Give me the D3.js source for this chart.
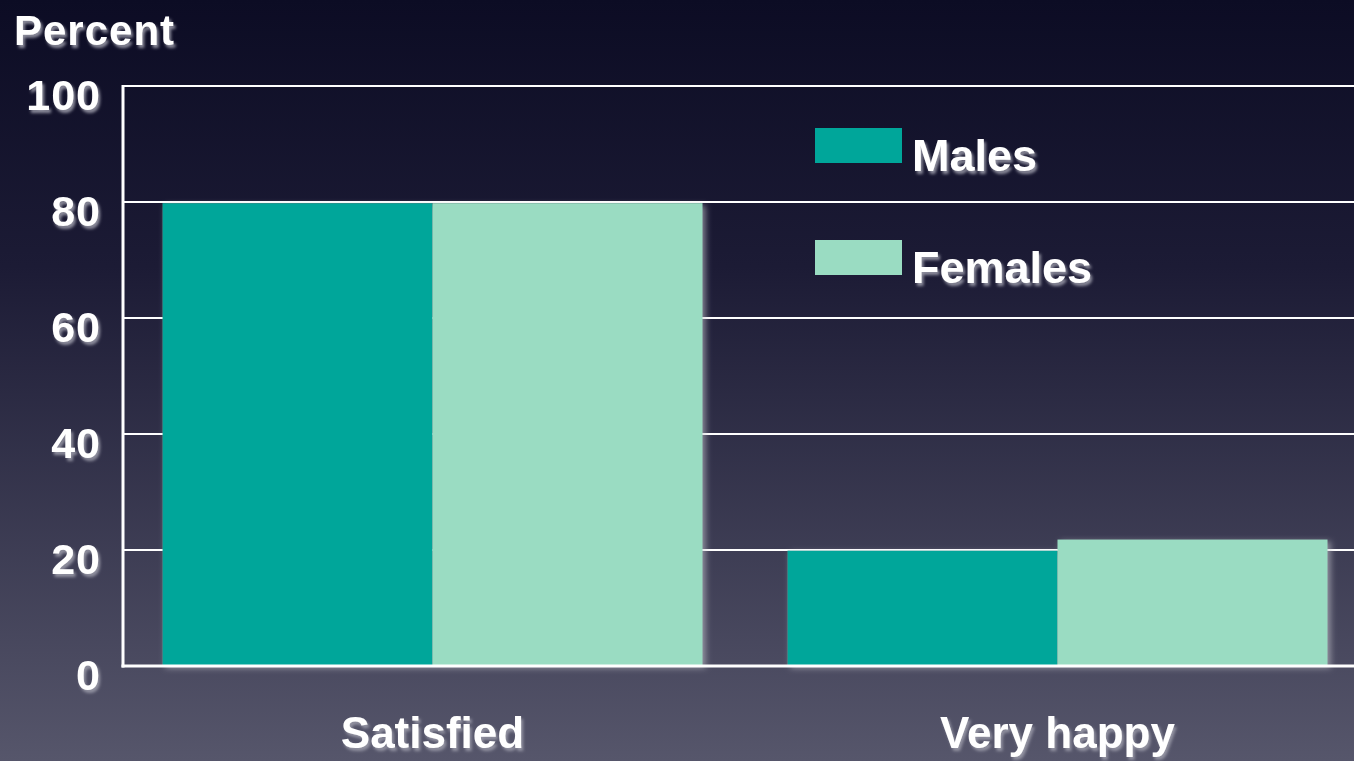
<!DOCTYPE html>
<html>
<head>
<meta charset="utf-8">
<script src="https://cdn.jsdelivr.net/npm/d3@7"></script>
<style>
  html, body { margin: 0; padding: 0; overflow: hidden; }
  svg text {
    font-family: "Liberation Sans", Arial, Helvetica, sans-serif;
    font-weight: bold;
    fill: #fff;
  }
</style>
</head>
<body>
<div id="chart"></div>
<script>
var categories = ["Satisfied", "Very happy"];
var seriesNames = ["Males", "Females"];
var males = [79.8, 19.9];
var females = [79.8, 21.8];
var yTicks = [0, 20, 40, 60, 80, 100];
var colors = ["#00a69a", "#9adcc2"];

var w = 1354, h = 761;
var plotLeft = 123, plotTop = 86, plotBottom = 666;

var svg = d3.select("#chart").append("svg")
  .attr("width", w)
  .attr("height", h);

var defs = svg.append("defs");
var grad = defs.append("linearGradient")
  .attr("id", "bg")
  .attr("x1", 0).attr("y1", 0).attr("x2", 0).attr("y2", 1);
grad.append("stop").attr("offset", "0%").attr("stop-color", "#0c0c24");
grad.append("stop").attr("offset", "35%").attr("stop-color", "#1c1b35");
grad.append("stop").attr("offset", "100%").attr("stop-color", "#56566b");

// text glow like the slide
var tf = defs.append("filter").attr("id", "txt")
  .attr("x", "-10%").attr("y", "-20%").attr("width", "130%").attr("height", "160%");
tf.append("feGaussianBlur").attr("in", "SourceAlpha").attr("stdDeviation", 1.6).attr("result", "b");
tf.append("feOffset").attr("in", "b").attr("dx", 2).attr("dy", 3).attr("result", "o");
tf.append("feFlood").attr("flood-color", "#9a9aa8").attr("flood-opacity", 0.9);
tf.append("feComposite").attr("in2", "o").attr("operator", "in").attr("result", "s");
var tm = tf.append("feMerge");
tm.append("feMergeNode").attr("in", "s");
tm.append("feMergeNode").attr("in", "SourceGraphic");

var bf = defs.append("filter").attr("id", "barShadow")
  .attr("x", "-5%").attr("y", "-5%").attr("width", "112%").attr("height", "112%");
bf.append("feGaussianBlur").attr("in", "SourceAlpha").attr("stdDeviation", 3).attr("result", "b");
bf.append("feOffset").attr("in", "b").attr("dx", 3).attr("dy", 2).attr("result", "o");
bf.append("feFlood").attr("flood-color", "#c8c8d0").attr("flood-opacity", 0.6);
bf.append("feComposite").attr("in2", "o").attr("operator", "in").attr("result", "s");
var bm = bf.append("feMerge");
bm.append("feMergeNode").attr("in", "s");
bm.append("feMergeNode").attr("in", "SourceGraphic");

svg.append("rect")
  .attr("width", w).attr("height", h)
  .attr("fill", "url(#bg)");

var y = d3.scaleLinear().domain([0, 100]).range([plotBottom, plotTop]);
var x0 = d3.scaleBand().domain(categories)
  .range([120, 1370])
  .paddingInner(0.136)
  .paddingOuter(0.068);
var x1 = d3.scaleBand().domain(seriesNames)
  .range([0, x0.bandwidth()]);

// gridlines
svg.append("g").selectAll("line")
  .data(yTicks.filter(function(d) { return d > 0; }))
  .enter().append("line")
  .attr("x1", plotLeft).attr("x2", w)
  .attr("y1", function(d) { return y(d); })
  .attr("y2", function(d) { return y(d); })
  .attr("stroke", "#fff")
  .attr("stroke-width", 2);

// bars
var data = categories.map(function(c, i) {
  return [{cat: c, s: "Males", v: males[i]}, {cat: c, s: "Females", v: females[i]}];
});
var groups = svg.append("g").selectAll("g")
  .data(data)
  .enter().append("g")
  .attr("transform", function(d) { return "translate(" + x0(d[0].cat) + ",0)"; })
  .attr("filter", "url(#barShadow)");
groups.selectAll("rect")
  .data(function(d) { return d; })
  .enter().append("rect")
  .attr("x", function(d) { return x1(d.s); })
  .attr("y", function(d) { return y(d.v); })
  .attr("width", x1.bandwidth())
  .attr("height", function(d) { return plotBottom - y(d.v); })
  .attr("fill", function(d, i) { return colors[i]; });

// axis frame
svg.append("line")
  .attr("x1", plotLeft).attr("x2", plotLeft)
  .attr("y1", y(100) - 1).attr("y2", plotBottom + 1.5)
  .attr("stroke", "#fff").attr("stroke-width", 3);
svg.append("line")
  .attr("x1", plotLeft - 1.5).attr("x2", w)
  .attr("y1", plotBottom).attr("y2", plotBottom)
  .attr("stroke", "#fff").attr("stroke-width", 3);

// tick labels
var yAxis = d3.axisLeft(y).tickValues(yTicks).tickSize(0).tickPadding(0);
var ya = svg.append("g")
  .attr("transform", "translate(101,10)")
  .call(yAxis);
ya.select(".domain").remove();
ya.selectAll("text")
  .attr("font-size", 43)
  .attr("letter-spacing", 1)
  .attr("filter", "url(#txt)")
  .style("font-family", "'Liberation Sans', Arial, sans-serif")
  .style("font-weight", "bold")
  .style("fill", "#fff");

svg.append("text")
  .attr("x", 14).attr("y", 45)
  .attr("font-size", 42)
  .attr("letter-spacing", 1)
  .attr("filter", "url(#txt)")
  .text("Percent");

// category labels
svg.append("g").selectAll("text")
  .data(categories)
  .enter().append("text")
  .attr("x", function(d) { return x0(d) + x0.bandwidth() / 2; })
  .attr("y", 748)
  .attr("text-anchor", "middle")
  .attr("font-size", 44)
  .attr("filter", "url(#txt)")
  .text(function(d) { return d; });

// legend
var legend = svg.append("g").selectAll("g")
  .data(seriesNames)
  .enter().append("g")
  .attr("transform", function(d, i) { return "translate(815," + (128 + i * 112) + ")"; });
legend.append("rect")
  .attr("width", 87).attr("height", 35)
  .attr("fill", function(d, i) { return colors[i]; });
legend.append("text")
  .attr("x", 97).attr("y", 43)
  .attr("font-size", 45)
  .attr("filter", "url(#txt)")
  .text(function(d) { return d; });
</script>
</body>
</html>
